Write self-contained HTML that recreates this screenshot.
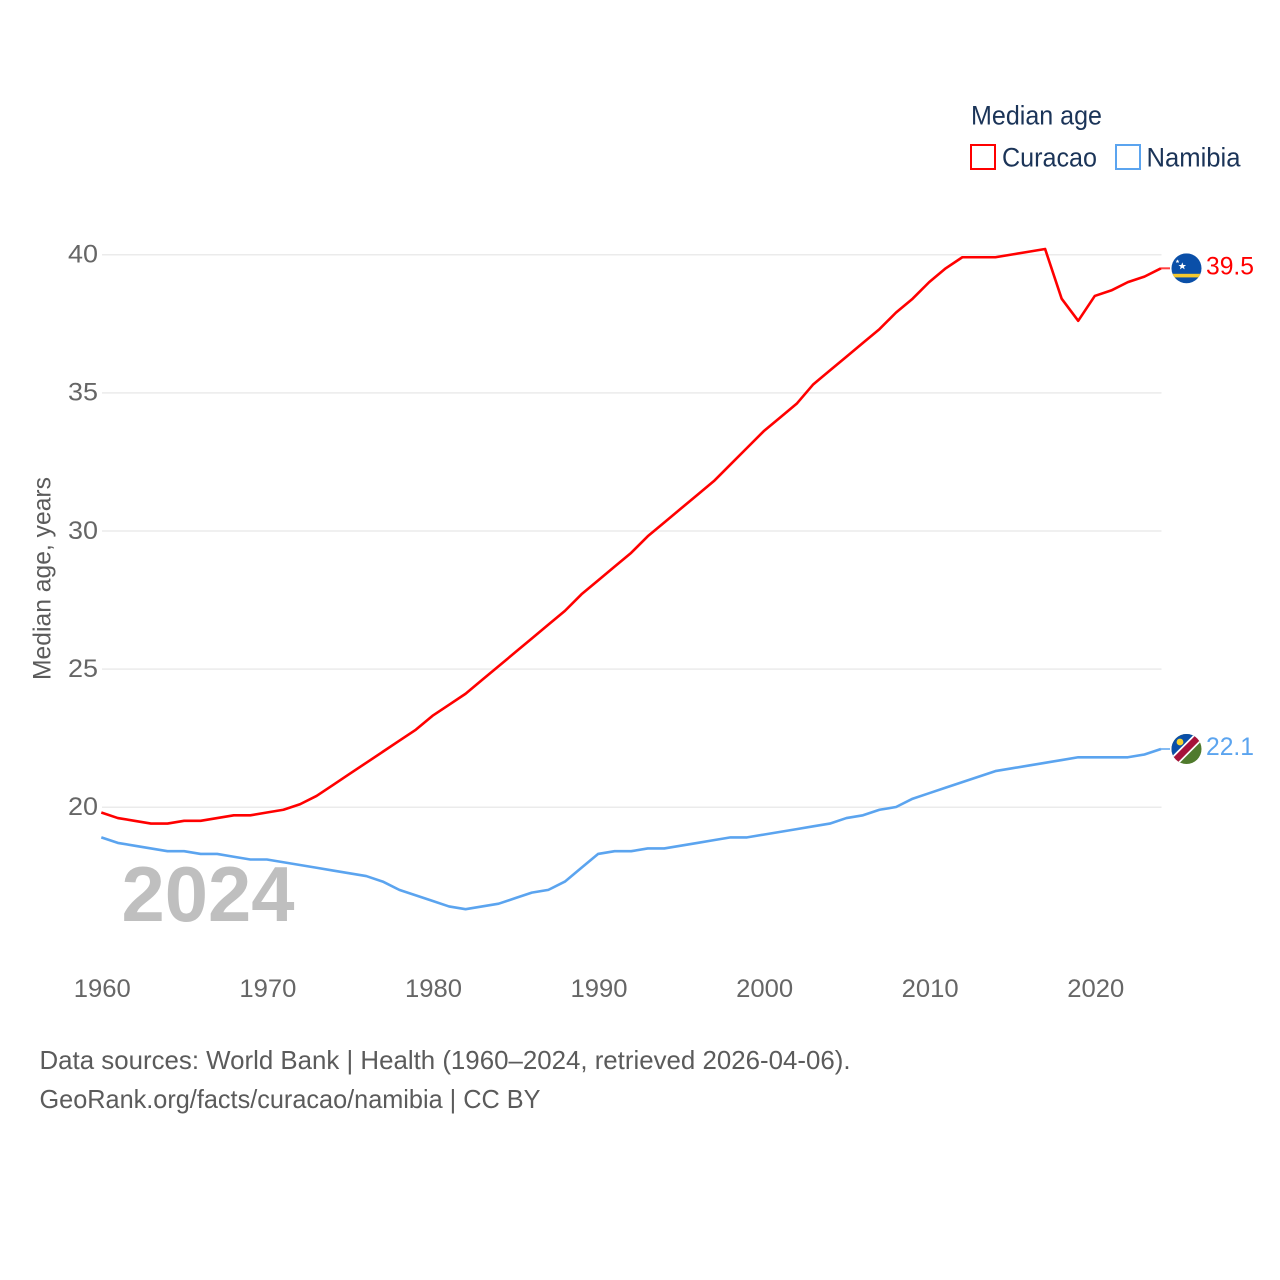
<!DOCTYPE html>
<html lang="en">
<head>
<meta charset="utf-8">
<title>Median age: Curacao and Namibia</title>
<style>
html,body{margin:0;padding:0;background:#fff;width:1280px;height:1280px;overflow:hidden}
svg{display:block}
text{font-family:"Liberation Sans",sans-serif}
</style>
</head>
<body>
<svg id="chart" xmlns="http://www.w3.org/2000/svg" width="1280" height="1280" viewBox="0 0 1280 1280">
  <rect width="1280" height="1280" fill="#fff"/>
  <g id="grid"></g>
  <g id="yticks"></g>
  <g id="xticks"></g>
  <text transform="translate(50.5,680) rotate(-90)" font-size="25" fill="#5b5b5b" textLength="203" lengthAdjust="spacingAndGlyphs">Median age, years</text>
  <text x="121.5" y="921" font-size="78" font-weight="700" fill="#bfbfbf" textLength="173" lengthAdjust="spacingAndGlyphs">2024</text>
  <path id="line-curacao" fill="none" stroke="#ff0000" stroke-width="2.6" stroke-linejoin="round"/>
  <path id="line-namibia" fill="none" stroke="#5ba4ef" stroke-width="2.6" stroke-linejoin="round"/>
  <path id="stub-curacao" fill="none" stroke="#ff0000" stroke-opacity="0.75" stroke-width="2"/>
  <path id="stub-namibia" fill="none" stroke="#5ba4ef" stroke-opacity="0.75" stroke-width="2"/>

  <defs>
    <clipPath id="clip-cw"><circle cx="0" cy="0" r="15"/></clipPath>
    <clipPath id="clip-na"><circle cx="0" cy="0" r="15"/></clipPath>
  </defs>

  <g id="flag-curacao">
    <g clip-path="url(#clip-cw)">
      <rect x="-15" y="-15" width="30" height="30" fill="#0a4fa8"/>
      <rect x="-15" y="5.5" width="30" height="3.6" fill="#f5c92e"/>
      <polygon points="-4.2,-6 -3.2,-3.3 -0.4,-3.3 -2.6,-1.6 -1.8,1 -4.2,-0.6 -6.6,1 -5.8,-1.6 -8,-3.3 -5.2,-3.3" fill="#fff"/>
      <polygon points="-9,-9 -8.4,-7.6 -7,-7.6 -8.1,-6.7 -7.7,-5.3 -9,-6.1 -10.3,-5.3 -9.9,-6.7 -11,-7.6 -9.6,-7.6" fill="#fff"/>
    </g>
  </g>
  <g id="flag-namibia">
    <g clip-path="url(#clip-na)">
      <rect x="-15" y="-15" width="30" height="30" fill="#4f7a2c"/>
      <polygon points="-15,-15 15,-15 -15,15" fill="#0a4fa8"/>
      <line x1="-18" y1="18" x2="18" y2="-18" stroke="#fff" stroke-width="10"/>
      <line x1="-18" y1="18" x2="18" y2="-18" stroke="#a6123a" stroke-width="6.6"/>
      <circle cx="-6.5" cy="-7" r="3.4" fill="#f6d32f"/>
    </g>
  </g>

  <text id="value-curacao" x="1206" y="274" font-size="25" fill="#ff0000" textLength="48" lengthAdjust="spacingAndGlyphs">39.5</text>
  <text id="value-namibia" x="1206" y="755" font-size="25" fill="#5ba4ef" textLength="48" lengthAdjust="spacingAndGlyphs">22.1</text>

  <g>
    <text x="971" y="124.4" font-size="27" fill="#1b3458" textLength="131" lengthAdjust="spacingAndGlyphs">Median age</text>
    <g>
      <rect x="971" y="145" width="24" height="24" fill="#fff" stroke="#ff0000" stroke-width="2"/>
      <text x="1002" y="166.4" font-size="27" fill="#1b3458" textLength="95" lengthAdjust="spacingAndGlyphs">Curacao</text>
    </g>
    <g>
      <rect x="1116" y="145" width="24" height="24" fill="#fff" stroke="#5ba4ef" stroke-width="2"/>
      <text x="1146.5" y="166.4" font-size="27" fill="#1b3458" textLength="94" lengthAdjust="spacingAndGlyphs">Namibia</text>
    </g>
  </g>

  <text x="39.5" y="1069" font-size="26" fill="#5b5b5b" textLength="811" lengthAdjust="spacingAndGlyphs">Data sources: World Bank | Health (1960–2024, retrieved 2026-04-06).</text>
  <text x="39.5" y="1108" font-size="26" fill="#5b5b5b" textLength="501" lengthAdjust="spacingAndGlyphs">GeoRank.org/facts/curacao/namibia | CC BY</text>
</svg>
<script>
const startYear = 1960;
const curacao = [19.8,19.6,19.5,19.4,19.4,19.5,19.5,19.6,19.7,19.7,19.8,19.9,20.1,20.4,20.8,21.2,21.6,22.0,22.4,22.8,23.3,23.7,24.1,24.6,25.1,25.6,26.1,26.6,27.1,27.7,28.2,28.7,29.2,29.8,30.3,30.8,31.3,31.8,32.4,33.0,33.6,34.1,34.6,35.3,35.8,36.3,36.8,37.3,37.9,38.4,39.0,39.5,39.9,39.9,39.9,40.0,40.1,40.2,38.4,37.6,38.5,38.7,39.0,39.2,39.5];
const namibia = [18.9,18.7,18.6,18.5,18.4,18.4,18.3,18.3,18.2,18.1,18.1,18.0,17.9,17.8,17.7,17.6,17.5,17.3,17.0,16.8,16.6,16.4,16.3,16.4,16.5,16.7,16.9,17.0,17.3,17.8,18.3,18.4,18.4,18.5,18.5,18.6,18.7,18.8,18.9,18.9,19.0,19.1,19.2,19.3,19.4,19.6,19.7,19.9,20.0,20.3,20.5,20.7,20.9,21.1,21.3,21.4,21.5,21.6,21.7,21.8,21.8,21.8,21.8,21.9,22.1];
const yTickValues = [20,25,30,35,40];
const xTickValues = [1960,1970,1980,1990,2000,2010,2020];

const xScale = year => 101.3 + (year - 1960) * (1161 - 101.3) / 64;
const yScale = value => 807 - (value - 20) * (807 - 254.5) / 20;
const NS = 'http://www.w3.org/2000/svg';

const grid = document.getElementById('grid');
const yticks = document.getElementById('yticks');
const xticks = document.getElementById('xticks');

yTickValues.forEach(v => {
  const line = document.createElementNS(NS, 'line');
  
  
  line.setAttribute('x1', 102);
  line.setAttribute('x2', 1161.5);
  line.setAttribute('y1', yScale(v) + 0.3);
  line.setAttribute('y2', yScale(v) + 0.3);
  line.setAttribute('stroke', '#ebebeb');
  line.setAttribute('stroke-width', '1.5');
  grid.appendChild(line);

  const label = document.createElementNS(NS, 'text');
  
  
  label.setAttribute('x', 98);
  label.setAttribute('y', yScale(v) + 8);
  label.setAttribute('text-anchor', 'end');
  label.setAttribute('font-size', '25');
  label.setAttribute('fill', '#666');
  label.setAttribute('textLength', '30');
  label.setAttribute('lengthAdjust', 'spacingAndGlyphs');
  label.textContent = v;
  yticks.appendChild(label);
});

xTickValues.forEach(y => {
  const label = document.createElementNS(NS, 'text');
  
  
  label.setAttribute('x', xScale(y) + 1);
  label.setAttribute('y', 997);
  label.setAttribute('text-anchor', 'middle');
  label.setAttribute('font-size', '25');
  label.setAttribute('fill', '#666');
  label.setAttribute('textLength', '57');
  label.setAttribute('lengthAdjust', 'spacingAndGlyphs');
  label.textContent = y;
  xticks.appendChild(label);
});

function linePath(values) {
  return values.map((v, i) => (i ? 'L' : 'M') + xScale(startYear + i).toFixed(2) + ' ' + yScale(v).toFixed(2)).join('');
}
function drawSeries(values, lineId, stubId, flagId, valueId) {
  document.getElementById(lineId).setAttribute('d', linePath(values));
  const last = values[values.length - 1];
  const lastX = xScale(startYear + values.length - 1);
  const lastY = yScale(last);
  document.getElementById(stubId).setAttribute('d', 'M' + lastX + ' ' + lastY + 'H' + (lastX + 9));
  document.getElementById(flagId).setAttribute('transform', 'translate(1186.5,' + lastY + ')');
  const valueLabel = document.getElementById(valueId);
  valueLabel.textContent = last.toFixed(1);
  valueLabel.setAttribute('y', lastY + 6);
}
drawSeries(curacao, 'line-curacao', 'stub-curacao', 'flag-curacao', 'value-curacao');
drawSeries(namibia, 'line-namibia', 'stub-namibia', 'flag-namibia', 'value-namibia');
</script>
</body>
</html>
